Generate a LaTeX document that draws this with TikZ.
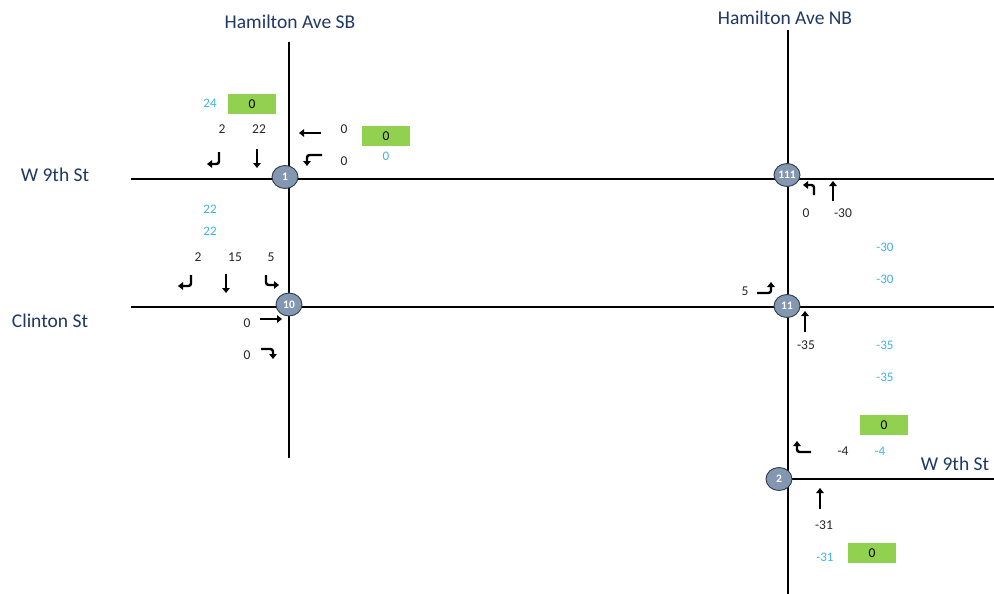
\documentclass[tikz,border=0pt]{standalone}
\usepackage{fontspec}
\setmainfont{Carlito}
\usetikzlibrary{shapes.geometric,arrows.meta}
\definecolor{street}{HTML}{203864}
\definecolor{vol}{HTML}{3BB4E6}
\definecolor{gbox}{HTML}{92D050}
\definecolor{nodefill}{HTML}{8497B0}
\definecolor{nodeline}{HTML}{2F3B4C}
\tikzset{
  road/.style={line width=1.7pt,black},
  inter/.style={ellipse,draw=nodeline,line width=0.9pt,fill=nodefill,minimum width=26pt,minimum height=23pt,inner sep=0pt,text=white,font=\fontsize{11.5}{11.5}\selectfont\bfseries},
  sname/.style={text=street,font=\fontsize{19.5}{19.5}\selectfont,inner sep=0pt},
  num/.style={text=black!85,font=\fontsize{13.5}{13.5}\selectfont,inner sep=0pt},
  bnum/.style={text=vol,font=\fontsize{13}{13}\selectfont,inner sep=0pt},
  gb/.style={fill=gbox,minimum width=48pt,minimum height=20.5pt,inner sep=0pt,text=black,font=\fontsize{13.5}{13.5}\selectfont},
  mv/.style={line width=2.4pt,rounded corners=2.5pt,-{Triangle[length=5pt,width=7.5pt]}}
}
\begin{document}
\begin{tikzpicture}[x=1pt,y=-1pt]
\path[fill=white,use as bounding box] (0,0) rectangle (994,594);
% road end coordinates
\coordinate (sbT) at (289,42);
\coordinate (sbB) at (289,458);
\coordinate (nbT) at (788,30);
\coordinate (nbB) at (788,594);
\coordinate (w9L) at (131,179);
\coordinate (w9R) at (994,179);
\coordinate (clL) at (131,307);
\coordinate (clR) at (994,307);
\coordinate (w9bR) at (994,479);
\coordinate (w9bL) at (790,479);
\draw[road] (sbT) -- (sbB);
\draw[road] (nbT) -- (nbB);
\draw[road] (w9L) -- (w9R);
\draw[road] (clL) -- (clR);
\draw[road] (w9bL) -- (w9bR);
% intersections
\node[inter] (n1) at (285,177) {1};
\node[inter] (n10) at (289,304.5) {10};
\node[inter] (n111) at (787,175) {111};
\node[inter] (n11) at (787,306) {11};
\node[inter] (n2) at (779,479) {2};
% street names
\node[sname] (hsb) at (290,22) {Hamilton Ave SB};
\node[sname] (hnb) at (785,18) {Hamilton Ave NB};
\node[sname] (w9a) at (55,175) {W 9th St};
\node[sname] (clin) at (50,321) {Clinton St};
\node[sname] (w9b) at (955,464) {W 9th St};
% intersection 1
\node[bnum] (t24) at (210,103) {24};
\node[gb] (g1) at (252,104) {0};
\node[num] (t2a) at (222,129) {2};
\node[num] (t22a) at (259,129) {22};
\node[num] (t0a) at (344,129) {0};
\node[num] (t0b) at (344,161) {0};
\node[gb] (g2) at (386,136) {0};
\node[bnum] (t0c) at (386,156) {0};
\draw[mv] (219,152) -- (219,164) -- (207,164);
\draw[mv] (257,149) -- (257,168);
\draw[mv] (321,133) -- (299,133);
\draw[mv] (322,155) -- (307,155) -- (307,166);
% intersection 10
\node[bnum] (t22b) at (210,209) {22};
\node[bnum] (t22c) at (210,231) {22};
\node[num] (t2b) at (198,257) {2};
\node[num] (t15) at (235,257) {15};
\node[num] (t5a) at (271,257) {5};
\node[num] (t0d) at (247,323) {0};
\node[num] (t0e) at (247,355) {0};
\draw[mv] (191,275) -- (191,286) -- (178,286);
\draw[mv] (226,274) -- (226,293);
\draw[mv] (266,275) -- (266,285) -- (279,285);
\draw[mv] (260,319) -- (282,319);
\draw[mv] (261,349) -- (273,349) -- (273,359);
% intersection 111
\node[num] (t0f) at (806,213) {0};
\node[num] (t30a) at (843,213) {-30};
\node[bnum] (t30b) at (885,247) {-30};
\node[bnum] (t30c) at (885,279) {-30};
\draw[mv] (814,195) -- (814,185) -- (803,185);
\draw[mv] (833,201) -- (833,181);
% intersection 11
\node[num] (t5b) at (745,291) {5};
\node[num] (t35a) at (806,345) {-35};
\node[bnum] (t35b) at (885,345) {-35};
\node[bnum] (t35c) at (885,377) {-35};
\draw[mv] (757,293) -- (771,293) -- (771,282);
\draw[mv] (805,332) -- (805,311);
% intersection 2
\node[gb] (g3) at (884,425) {0};
\node[num] (t4a) at (843,451) {-4};
\node[bnum] (t4b) at (880,451) {-4};
\node[num] (t31a) at (824,525) {-31};
\node[bnum] (t31b) at (825,557) {-31};
\node[gb] (g4) at (872,553) {0};
\draw[mv] (811,452) -- (797,452) -- (797,441);
\draw[mv] (820,509) -- (820,488);
\end{tikzpicture}
\end{document}
